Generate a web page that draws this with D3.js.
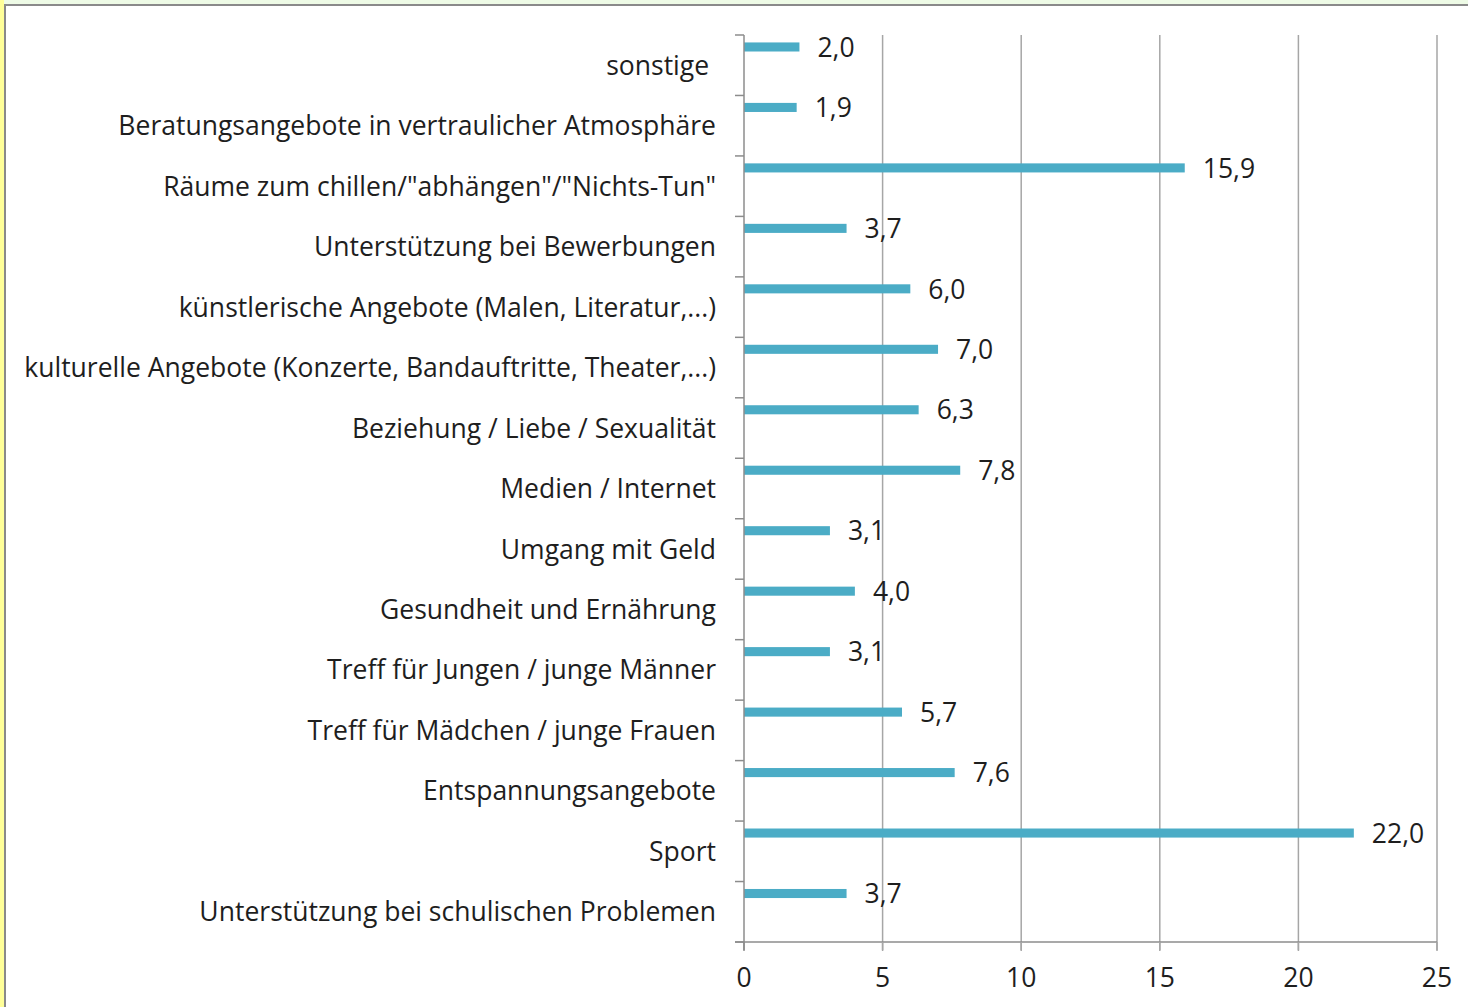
<!DOCTYPE html>
<html>
<head>
<meta charset="utf-8">
<script src="https://cdn.jsdelivr.net/npm/d3@7"></script>
<style>
  html, body { margin: 0; padding: 0; background: #fff; }
  svg { display: block; }
  text { font-family: "Open Sans", "Noto Sans", sans-serif; fill: #1e1e1e; }
</style>
</head>
<body>
<svg width="1468" height="1007"></svg>
<script>
var categories = [
  "sonstige\u00a0",
  "Beratungsangebote in vertraulicher Atmosphäre",
  "Räume zum chillen/\"abhängen\"/\"Nichts-Tun\"",
  "Unterstützung bei Bewerbungen",
  "künstlerische Angebote (Malen, Literatur,...)",
  "kulturelle Angebote (Konzerte, Bandauftritte, Theater,...)",
  "Beziehung / Liebe / Sexualität",
  "Medien / Internet",
  "Umgang mit Geld",
  "Gesundheit und Ernährung",
  "Treff für Jungen / junge Männer",
  "Treff für Mädchen / junge Frauen",
  "Entspannungsangebote",
  "Sport",
  "Unterstützung bei schulischen Problemen"
];
var values = [2.0, 1.9, 15.9, 3.7, 6.0, 7.0, 6.3, 7.8, 3.1, 4.0, 3.1, 5.7, 7.6, 22.0, 3.7];
var xTicks = [0, 5, 10, 15, 20, 25];

var svg = d3.select("svg");
var width = +svg.attr("width");
var height = +svg.attr("height");

// plot box (window.top is reserved, so no "top" here)
var plotL = 744, plotR = 1437, plotT = 35, plotB = 942;
var labelX = 716;
var barColor = "#4bacc6";
var gridColor = "#a6a6a6";
var axisColor = "#8c8c8c";

var de = d3.formatLocale({decimal: ",", thousands: ".", grouping: [3], currency: ["", " €"]});
var fmt = de.format(".1f");

// frame strips like the screenshot
svg.append("rect").attr("x", 0).attr("y", 0).attr("width", width).attr("height", 4).attr("fill", "#eefbe6");
svg.append("rect").attr("x", 0).attr("y", 0).attr("width", 4).attr("height", height).attr("fill", "#ffff99");
svg.append("rect").attr("x", 4).attr("y", 4).attr("width", width - 4).attr("height", 2).attr("fill", "#8a8a8a");
svg.append("rect").attr("x", 4).attr("y", 4).attr("width", 2).attr("height", height - 4).attr("fill", "#8a8a8a");

var x = d3.scaleLinear().domain([0, 25]).range([plotL, plotR]);
var y = d3.scaleBand().domain(categories).range([plotT, plotB]).padding(0);
var bw = y.bandwidth();

// fit font size to the longest label
var probe = svg.append("text").style("font-size", "100px").text(categories[5]);
var fontSize = 100 * (labelX - 24) / probe.node().getComputedTextLength();
probe.remove();

// gridlines
svg.append("g").selectAll("line")
  .data(xTicks.filter(function(d) { return d > 0; }))
  .enter().append("line")
    .attr("x1", function(d) { return x(d); })
    .attr("x2", function(d) { return x(d); })
    .attr("y1", plotT)
    .attr("y2", plotB + 8)
    .attr("stroke", gridColor)
    .attr("stroke-width", 1.5);

// bars
svg.append("g").selectAll("rect")
  .data(values)
  .enter().append("rect")
    .attr("x", x(0))
    .attr("y", function(d, i) { return y(categories[i]) + bw * 0.123; })
    .attr("width", function(d) { return x(d) - x(0); })
    .attr("height", bw * 0.15)
    .attr("fill", barColor);

// value labels
svg.append("g").selectAll("text")
  .data(values)
  .enter().append("text")
    .attr("x", function(d) { return x(d) + 18; })
    .attr("y", function(d, i) { return y(categories[i]) + bw * 0.2; })
    .attr("dy", "0.36em")
    .style("font-size", fontSize + "px")
    .text(function(d) { return fmt(d); });

// y axis
var yAxis = svg.append("g");
yAxis.append("line")
  .attr("x1", plotL).attr("x2", plotL).attr("y1", plotT).attr("y2", plotB + 8)
  .attr("stroke", axisColor).attr("stroke-width", 1.5);
yAxis.selectAll(".tick")
  .data(categories.concat([null]))
  .enter().append("line")
    .attr("x1", plotL - 9).attr("x2", plotL)
    .attr("y1", function(d) { return d === null ? plotB : y(d); })
    .attr("y2", function(d) { return d === null ? plotB : y(d); })
    .attr("stroke", axisColor).attr("stroke-width", 1.5);
yAxis.selectAll("text")
  .data(categories)
  .enter().append("text")
    .attr("x", labelX)
    .attr("y", function(d) { return y(d) + bw / 2; })
    .attr("dy", "0.36em")
    .attr("text-anchor", "end")
    .style("white-space", "pre")
    .style("font-size", fontSize + "px")
    .text(function(d) { return d; });

// x axis
var xAxis = svg.append("g");
xAxis.append("line")
  .attr("x1", plotL - 9).attr("x2", plotR).attr("y1", plotB).attr("y2", plotB)
  .attr("stroke", axisColor).attr("stroke-width", 1.5);
xAxis.selectAll(".tick")
  .data(xTicks)
  .enter().append("line")
    .attr("x1", function(d) { return x(d); })
    .attr("x2", function(d) { return x(d); })
    .attr("y1", plotB).attr("y2", plotB + 9)
    .attr("stroke", function(d) { return d === 0 ? axisColor : gridColor; })
    .attr("stroke-width", 1.5);
xAxis.selectAll("text")
  .data(xTicks)
  .enter().append("text")
    .attr("x", function(d) { return x(d); })
    .attr("y", 977)
    .attr("dy", "0.36em")
    .attr("text-anchor", "middle")
    .style("font-size", fontSize + "px")
    .text(function(d) { return d; });
</script>
</body>
</html>
